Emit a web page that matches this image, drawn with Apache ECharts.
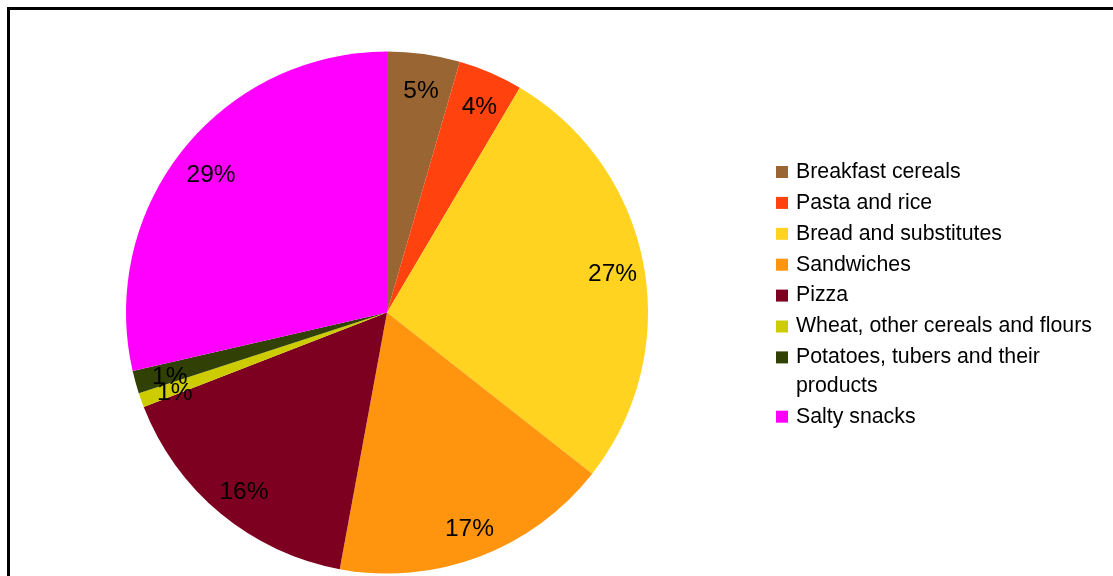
<!DOCTYPE html>
<html>
<head>
<meta charset="utf-8">
<title>Food categories</title>
<script src="https://cdn.jsdelivr.net/npm/echarts@6/dist/echarts.min.js"></script>
<style>
  html, body { margin: 0; padding: 0; background: #ffffff; }
  #chart { width: 1113px; height: 576px; }
</style>
</head>
<body>
<div id="chart"></div>
<script>
// Share of each food category (percent of total)
const categories = [
  'Breakfast cereals',
  'Pasta and rice',
  'Bread and substitutes',
  'Sandwiches',
  'Pizza',
  'Wheat, other cereals and flours',
  'Potatoes, tubers and their products',
  'Salty snacks'
];
const shares = [4.5, 4.0, 27.1, 17.3, 16.2, 0.9, 1.4, 28.6];
const sliceColors = ['#996633', '#ff420e', '#ffd320', '#ff950e', '#7e0021', '#cccc00', '#314004', '#ff00ff'];

const FONT = '"Liberation Sans", Arial, Helvetica, sans-serif';
const CX = 387, CY = 312.5, R = 261;
const WRAPPED = 'Potatoes, tubers and their products';

const pieData = categories.map((name, i) => ({
  name: name,
  value: shares[i],
  itemStyle: { color: sliceColors[i] }
}));
const labelData = categories.map((name, i) => ({ name: name, value: shares[i] }));

// One legend block per entry so that the wrapped entry keeps its swatch on the first line
const LEG_LEFT = 776, LEG_TOP = 172, LEG_STEP = 30.9, LINE_H = 28.4, SWATCH = 12;
const legends = categories.map((name, i) => {
  const wrapped = name === WRAPPED;
  let centerY = LEG_TOP + i * LEG_STEP;
  if (i > categories.indexOf(WRAPPED)) centerY += LINE_H;
  return {
    data: [name],
    orient: 'vertical',
    left: LEG_LEFT,
    // the text block is centred on the swatch; the wrapped entry carries an empty first line
    top: wrapped ? centerY - LINE_H * 1.5 : centerY - LINE_H / 2,
    padding: 0,
    icon: 'rect',
    itemWidth: SWATCH,
    itemHeight: SWATCH,
    selectedMode: false,
    formatter: n => n === WRAPPED ? ' \nPotatoes, tubers and their\nproducts' : n,
    textStyle: {
      color: '#000000',
      fontFamily: FONT,
      fontSize: 21.3,
      lineHeight: LINE_H,
      padding: [0, 0, 0, 3]
    }
  };
});

const chart = echarts.init(document.getElementById('chart'), null, { renderer: 'canvas' });
chart.setOption({
  backgroundColor: '#ffffff',
  animation: false,
  legend: legends,
  graphic: [{
    type: 'rect',
    shape: { x: 8.5, y: 8.5, width: 1300, height: 800 },
    style: { fill: null, stroke: '#000000', lineWidth: 3 },
    silent: true,
    z: 100
  }],
  series: [
    {
      type: 'pie',
      center: [CX, CY],
      radius: [0, R],
      startAngle: 90,
      clockwise: true,
      data: pieData,
      label: { show: false },
      labelLine: { show: false },
      itemStyle: { borderWidth: 0 },
      emphasis: { disabled: true },
      silent: true
    },
    {
      // transparent ring that carries the percentage labels near the rim
      type: 'pie',
      center: [CX, CY],
      radius: [R * 0.72, R],
      startAngle: 90,
      clockwise: true,
      percentPrecision: 0,
      data: labelData,
      itemStyle: { color: 'rgba(0,0,0,0)', borderWidth: 0 },
      label: {
        show: true,
        position: 'inside',
        formatter: '{d}%',
        color: '#000000',
        fontFamily: FONT,
        fontSize: 24.5,
        offset: [2, 4],
        textBorderWidth: 0
      },
      labelLine: { show: false },
      labelLayout: { hideOverlap: false },
      emphasis: { disabled: true },
      silent: true
    }
  ]
});
</script>
</body>
</html>
